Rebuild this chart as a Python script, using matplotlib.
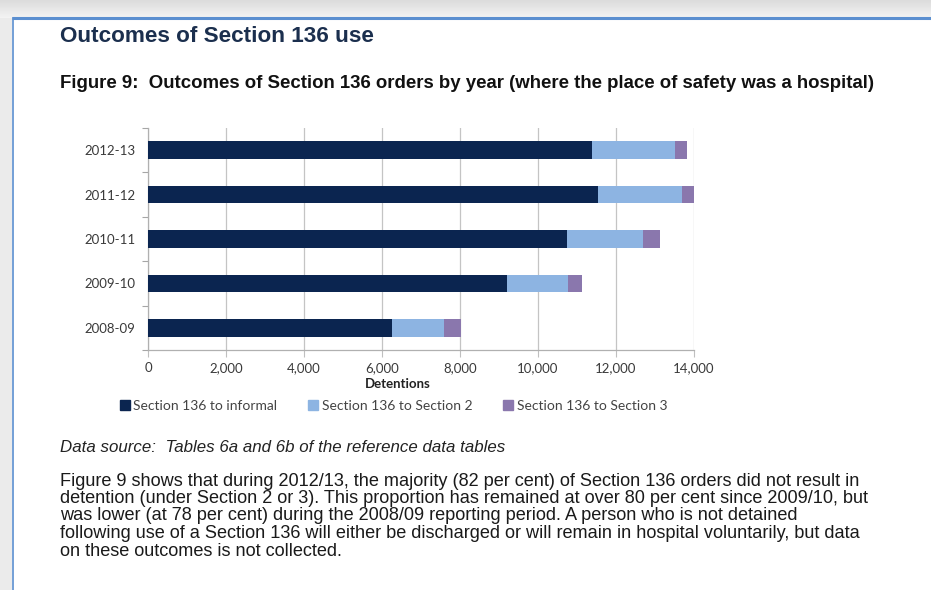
import numpy as np
import matplotlib.pyplot as plt
from matplotlib.patches import Rectangle
from matplotlib.lines import Line2D

# Section 136 outcomes by year (place of safety: hospital)
years = ["2008-09", "2009-10", "2010-11", "2011-12", "2012-13"]
to_informal = [6260, 9200, 10750, 11550, 11390]
to_section2 = [1320, 1570, 1940, 2150, 2130]
to_section3 = [435, 350, 430, 300, 300]
series_names = ["Section 136 to informal", "Section 136 to Section 2", "Section 136 to Section 3"]
xticks = [0, 2000, 4000, 6000, 8000, 10000, 12000, 14000]

colors = ["#0b2550", "#8db4e2", "#8a77ad"]
W, H = 931, 590

fig = plt.figure(figsize=(W / 100, H / 100), dpi=100)
fig.patch.set_facecolor("white")

# page background: grey shadow strip above and to the left, blue page border
bg = fig.add_axes([0, 0, 1, 1], zorder=-5)
bg.set_xlim(0, W)
bg.set_ylim(H, 0)
bg.axis("off")
shade = np.linspace(0.86, 0.95, 18).reshape(-1, 1)
bg.imshow(shade, cmap="gray", vmin=0, vmax=1, extent=[0, W, 18, 0], aspect="auto")
bg.add_patch(Rectangle((0, 18), 12, H - 18, color="#ebebeb", lw=0))
bg.plot([12, W], [18, 18], color="#5b8fd0", lw=2.2, solid_capstyle="butt")
bg.plot([12.5, 12.5], [18, H], color="#5b8fd0", lw=1.2)

def px(x, y):
    return x / W, 1 - y / H

fig.text(*px(60, 37), "Outcomes of Section 136 use", fontsize=16.2, fontweight="bold",
         color="#1b2f4e", va="center", family="Liberation Sans")
fig.text(*px(60, 84), "Figure 9:  Outcomes of Section 136 orders by year (where the place of safety was a hospital)",
         fontsize=13.4, fontweight="bold", color="#111111", va="center", family="Liberation Sans")

# stacked horizontal bars
ax = fig.add_axes([148 / W, 1 - 350 / H, 546 / W, 222 / H])
y = np.arange(len(years))
left = np.zeros(len(years))
for vals, c in zip([to_informal, to_section2, to_section3], colors):
    ax.barh(y, vals, left=left, height=0.4, color=c, zorder=3)
    left += np.array(vals)

ax.set_xlim(0, 14000)
ax.set_ylim(-0.5, len(years) - 0.5)
ax.set_xticks(xticks)
ax.set_xticklabels([f"{v:,}" for v in xticks])
ax.set_yticks(y)
ax.set_yticklabels(years)
ax.set_yticks(np.arange(-0.5, len(years)), minor=True)
ax.tick_params(axis="y", which="major", length=0, pad=9)
ax.tick_params(axis="y", which="minor", length=4, color="#a6a6a6", width=0.8)
ax.tick_params(axis="x", length=5, color="#bfbfbf", width=0.8, pad=4)
ax.grid(axis="x", color="#c4c4c4", lw=0.9, zorder=0)
for s in ["top", "right"]:
    ax.spines[s].set_visible(False)
for s in ["left", "bottom"]:
    ax.spines[s].set_color("#b0b0b0")
    ax.spines[s].set_linewidth(0.9)
for lab in ax.get_xticklabels() + ax.get_yticklabels():
    lab.set_family("Lato")
    lab.set_fontsize(9.5)
    lab.set_color("#3a3a3a")

fig.text(*px(398, 384), "Detentions", fontsize=9.5, fontweight="bold", family="Lato",
         color="#222222", ha="center", va="center")

handles = [Line2D([], [], marker="s", ls="", markersize=6.5, color=c) for c in colors]
leg = fig.legend(handles, series_names, loc="center", bbox_to_anchor=px(394, 406), ncol=3,
                 frameon=False, handlelength=0.6, handletextpad=0.3, columnspacing=2.3,
                 prop={"family": "Lato", "size": 10})
for t in leg.get_texts():
    t.set_color("#444444")

fig.text(*px(60, 447), "Data source:  Tables 6a and 6b of the reference data tables",
         fontsize=12.2, style="italic", color="#222222", va="center", family="Liberation Sans")

body = [
    "Figure 9 shows that during 2012/13, the majority (82 per cent) of Section 136 orders did not result in",
    "detention (under Section 2 or 3). This proportion has remained at over 80 per cent since 2009/10, but",
    "was lower (at 78 per cent) during the 2008/09 reporting period. A person who is not detained",
    "following use of a Section 136 will either be discharged or will remain in hospital voluntarily, but data",
    "on these outcomes is not collected.",
]
for i, line in enumerate(body):
    fig.text(*px(60, 481 + i * 17.5), line, fontsize=13.1, color="#1a1a1a", va="center",
             family="Liberation Sans")

fig.savefig("out.png", dpi=100)
